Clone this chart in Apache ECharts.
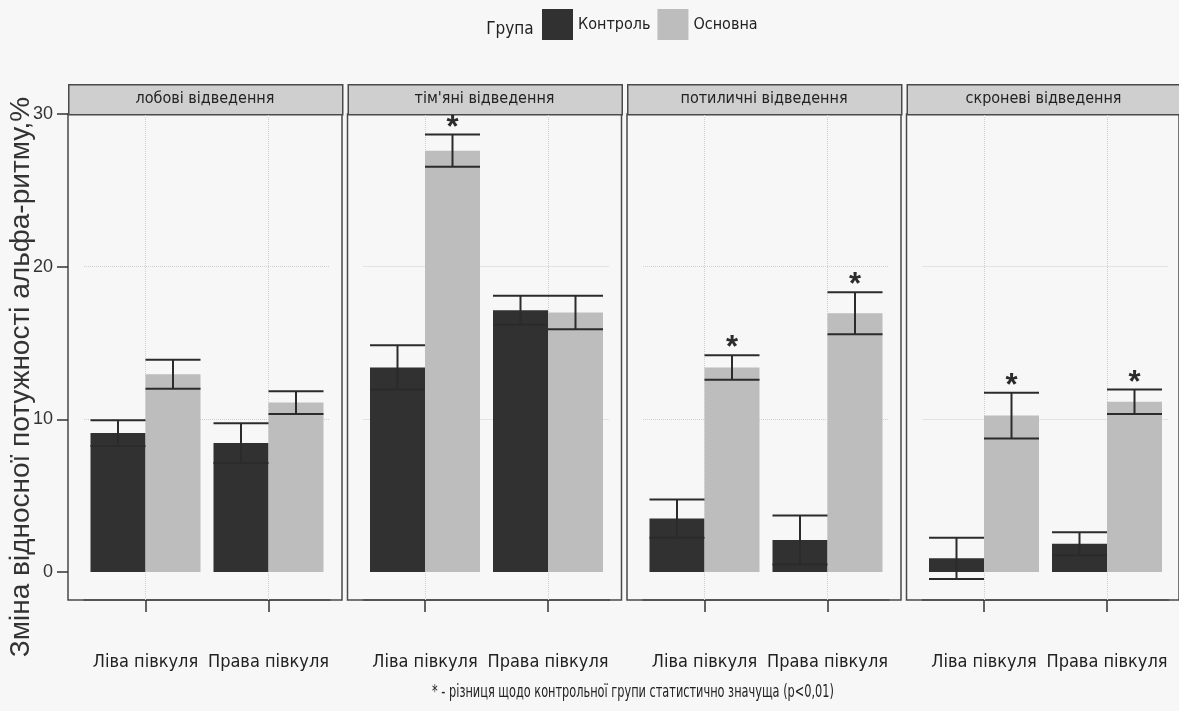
<!DOCTYPE html>
<html>
<head>
<meta charset="utf-8">
<script src="https://cdn.jsdelivr.net/npm/echarts@6/dist/echarts.min.js"></script>
<style>
  html, body { margin: 0; padding: 0; background: #f7f7f7; }
  #chart { width: 1179px; height: 711px; }
</style>
</head>
<body>
<div id="chart"></div>
<script>
const categories = ['Ліва півкуля', 'Права півкуля'];
const panels = ['лобові відведення', "тім'яні відведення", 'потиличні відведення', 'скроневі відведення'];
const yTicks = [0, 10, 20, 30];

// середні значення та похибки по панелях [ліва, права]
const controlMean = [[9.1, 8.45], [13.4, 17.15], [3.5, 2.1], [0.9, 1.85]];
const controlErr = [[0.85, 1.3], [1.45, 0.95], [1.25, 1.6], [1.35, 0.75]];
const mainMean = [[12.95, 11.1], [27.6, 17.0], [13.4, 16.95], [10.25, 11.15]];
const mainErr = [[0.95, 0.75], [1.05, 1.1], [0.8, 1.37], [1.5, 0.8]];
const significant = [[0, 0], [1, 0], [1, 1], [1, 1]];

const NARROW = '"Liberation Sans Narrow", "Arial Narrow", "DejaVu Sans Condensed", sans-serif';
const REGULAR = '"Liberation Sans", Arial, sans-serif';
const DARK = '#313131';
const LIGHT = '#bdbdbd';
const EDGE = '#4a4a4a';

const PANEL_X = 68, PANEL_STEP = 279.5, PANEL_W = 274;
const TOP = 114, BOTTOM = 111;
const INSET = 16, INNER_W = 246;
const BAR_W = 55;
const Y_MIN = -1.83, Y_MAX = 30;

const chart = echarts.init(document.getElementById('chart'));

function renderErr(params, api) {
  const cat = api.value(0), mean = api.value(1), err = api.value(2);
  const side = api.value(3), sig = api.value(4);
  const c = api.coord([cat, mean]);
  const hi = api.coord([cat, mean + err])[1];
  const lo = api.coord([cat, mean - err])[1];
  const x = c[0] + side * BAR_W / 2;
  const hw = BAR_W / 2;
  const st = { stroke: '#2b2b2b', lineWidth: 2 };
  const children = [
    { type: 'line', shape: { x1: x, y1: lo, x2: x, y2: hi }, style: st },
    { type: 'line', shape: { x1: x - hw, y1: hi, x2: x + hw, y2: hi }, style: st },
    { type: 'line', shape: { x1: x - hw, y1: lo, x2: x + hw, y2: lo }, style: st }
  ];
  if (sig) {
    children.push({
      type: 'text',
      style: {
        text: '*', x: x, y: hi - 22, align: 'center', verticalAlign: 'top',
        font: 'bold 31px ' + REGULAR, fill: '#2b2b2b'
      }
    });
  }
  return { type: 'group', children: children };
}

const grid = [], xAxis = [], yAxis = [], series = [], graphic = [];

panels.forEach((name, i) => {
  const left = PANEL_X + PANEL_STEP * i;
  // рамка панелі
  grid.push({ left: left, top: TOP, width: PANEL_W, bottom: BOTTOM, show: true, borderColor: EDGE, borderWidth: 1.5, backgroundColor: 'transparent' });
  // область даних
  grid.push({ left: left + INSET, top: TOP, width: INNER_W, bottom: BOTTOM });

  xAxis.push({ type: 'value', gridIndex: 2 * i, show: false });
  yAxis.push({
    type: 'value', gridIndex: 2 * i, min: Y_MIN, max: Y_MAX, show: i === 0,
    axisLine: { show: false },
    axisTick: { show: true, length: 11, customValues: yTicks, lineStyle: { color: '#333', width: 1.5 } },
    axisLabel: { customValues: yTicks, margin: 15, fontSize: 18, fontFamily: REGULAR, color: '#333' },
    splitLine: { show: false }
  });

  xAxis.push({
    type: 'category', gridIndex: 2 * i + 1, data: categories,
    axisLine: { show: true, onZero: false, lineStyle: { color: EDGE, width: 1.5 } },
    axisTick: { show: true, alignWithLabel: true, length: 12, lineStyle: { color: '#333', width: 1.5 } },
    axisLabel: { interval: 0, margin: 53, fontSize: 18, fontFamily: NARROW, color: '#222' }
  });
  yAxis.push({ type: 'value', gridIndex: 2 * i + 1, min: Y_MIN, max: Y_MAX, show: false });

  series.push({
    name: 'Контроль', type: 'bar', xAxisIndex: 2 * i + 1, yAxisIndex: 2 * i + 1,
    data: controlMean[i], barWidth: BAR_W, barGap: '0%',
    itemStyle: { color: DARK }, z: 2
  });
  series.push({
    name: 'Основна', type: 'bar', xAxisIndex: 2 * i + 1, yAxisIndex: 2 * i + 1,
    data: mainMean[i], barWidth: BAR_W, barGap: '0%',
    itemStyle: { color: LIGHT }, z: 2
  });
  const errData = [];
  categories.forEach((c, k) => {
    errData.push([k, controlMean[i][k], controlErr[i][k], -1, 0]);
    errData.push([k, mainMean[i][k], mainErr[i][k], 1, significant[i][k]]);
  });
  series.push({
    type: 'custom', xAxisIndex: 2 * i + 1, yAxisIndex: 2 * i + 1,
    renderItem: renderErr, data: errData, encode: { x: 0, y: 1 }, z: 5, silent: true,
    markLine: {
      silent: true, symbol: 'none', label: { show: false }, z: 1,
      lineStyle: { type: 'dotted', color: '#cfcfcf', width: 1 },
      data: [{ yAxis: 10 }, { yAxis: 20 }, { xAxis: categories[0] }, { xAxis: categories[1] }]
    }
  });

  graphic.push({
    type: 'rect', left: left, top: TOP - 30,
    shape: { width: PANEL_W, height: 30 },
    style: { fill: '#cfcfcf', stroke: EDGE, lineWidth: 1.5 }
  });
  graphic.push({
    type: 'text', x: left + PANEL_W / 2, y: TOP - 15,
    style: { text: name, align: 'center', verticalAlign: 'middle', font: '16px ' + NARROW, fill: '#222' }
  });
});

graphic.push({
  type: 'text', x: 21, y: 377, rotation: Math.PI / 2,
  style: { text: 'Зміна відносної потужності альфа-ритму,%', align: 'center', verticalAlign: 'middle', font: '28px ' + REGULAR, fill: '#333' }
});
graphic.push({
  type: 'text', x: 510, y: 30,
  style: { text: 'Група', align: 'center', verticalAlign: 'middle', font: '17px ' + NARROW, fill: '#222' }
});
graphic.push({
  type: 'text', x: 633, y: 692, scaleX: 0.7,
  style: { text: '* - різниця щодо контрольної групи статистично значуща (p<0,01)', align: 'center', verticalAlign: 'middle', font: '18px ' + NARROW, fill: '#222' }
});

const option = {
  backgroundColor: '#f7f7f7',
  animation: false,
  legend: {
    data: ['Контроль', 'Основна'],
    left: 542, top: 9, padding: 0,
    icon: 'rect', itemWidth: 31, itemHeight: 31, itemGap: 7,
    textStyle: { fontSize: 16, fontFamily: NARROW, color: '#222' }
  },
  grid: grid,
  xAxis: xAxis,
  yAxis: yAxis,
  series: series,
  graphic: graphic
};
chart.setOption(option);
</script>
</body>
</html>
